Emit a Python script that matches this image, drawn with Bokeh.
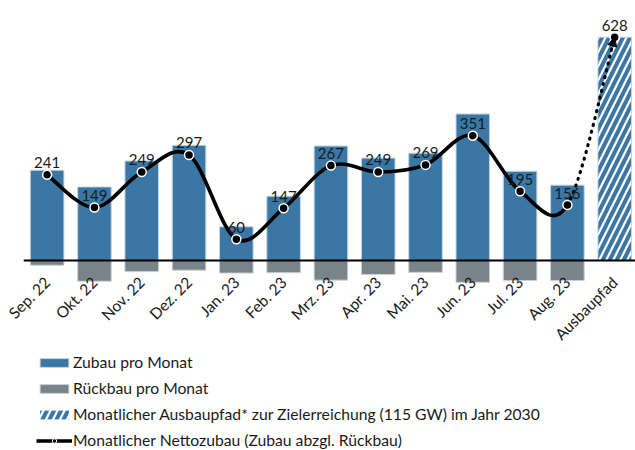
import math
from bokeh.plotting import figure
from bokeh.layouts import column
from bokeh.models import (ColumnDataSource, Range1d, FixedTicker, Span, Legend,
                          LegendItem, Arrow, NormalHead)
from bokeh.core.properties import value
from bokeh.embed import file_html
from bokeh.resources import INLINE

# ---------------- data ----------------
months = ["Sep. 22", "Okt. 22", "Nov. 22", "Dez. 22", "Jan. 23", "Feb. 23",
          "Mrz. 23", "Apr. 23", "Mai. 23", "Jun. 23", "Jul. 23", "Aug. 23"]
target_label = "Ausbaupfad"
zubau = [254, 207, 280, 324, 95, 181, 322, 288, 302, 412, 251, 212]
rueckbau = [13, 58, 31, 27, 35, 34, 55, 39, 33, 61, 56, 56]
netto = [241, 149, 249, 297, 60, 147, 267, 249, 269, 351, 195, 156]
ausbaupfad = 628

legend_labels = ["Zubau pro Monat", "Rückbau pro Monat",
                 "Monatlicher Ausbaupfad* zur Zielerreichung (115 GW) im Jahr 2030",
                 "Monatlicher Nettozubau (Zubau abzgl. Rückbau)"]

# ---------------- style ----------------
BLUE = "#3B77A4"
GRAY = "#78848A"
EDGE = "#C6D4E2"
GEDGE = "#C9D0D4"
FONT = "Lato"
TXT = "#1a1a1a"
HATCH = dict(fill_color="white", hatch_pattern="/", hatch_color=BLUE,
             hatch_weight=4, hatch_scale=14)
NAN = float("nan")

categories = months + [target_label]
xs = list(range(len(categories)))
nm = len(months)

CHART_H = 352
p = figure(width=635, height=CHART_H, output_backend="svg", toolbar_location=None,
           x_range=Range1d(-0.5, 12.44), y_range=Range1d(-64.4, 731),
           min_border_left=23, min_border_right=0, min_border_top=0,
           min_border_bottom=CHART_H - 284, y_axis_location=None,
           outline_line_color=None, background_fill_color="white",
           border_fill_color="white")
p.xgrid.visible = False
p.ygrid.visible = False

src = ColumnDataSource(dict(x=xs[:nm], zubau=zubau,
                            rueck=[-r for r in rueckbau], netto=netto,
                            lab=[str(v) for v in netto]))

p.vbar(x="x", top="zubau", bottom=0, width=0.71, source=src,
       fill_color=BLUE, line_color=EDGE, line_width=1)
p.vbar(x="x", top=0, bottom="rueck", width=0.71, source=src,
       fill_color=GRAY, line_color=GEDGE, line_width=1)
p.vbar(x=[xs[-1]], top=[ausbaupfad], bottom=0, width=0.71,
       line_color=EDGE, line_width=1, **HATCH)

p.add_layout(Span(location=0, dimension="width", line_color="black", line_width=2))

# smoothed net line (Catmull-Rom -> cubic Bezier)
py = netto + [ausbaupfad]
P = list(zip(xs, py))
n = len(P)
seg = dict(x0=[], y0=[], x1=[], y1=[], cx0=[], cy0=[], cx1=[], cy1=[])
for i in range(n - 1):
    p0 = P[i - 1] if i > 0 else P[i]
    p1, p2 = P[i], P[i + 1]
    p3 = P[i + 2] if i + 2 < n else P[i + 1]
    seg["x0"].append(p1[0]); seg["y0"].append(p1[1])
    seg["x1"].append(p2[0]); seg["y1"].append(p2[1])
    seg["cx0"].append(p1[0] + (p2[0] - p0[0]) / 6)
    seg["cy0"].append(p1[1] + (p2[1] - p0[1]) / 6)
    seg["cx1"].append(p2[0] - (p3[0] - p1[0]) / 6)
    seg["cy1"].append(p2[1] - (p3[1] - p1[1]) / 6)

solid = ColumnDataSource({k: v[:-1] for k, v in seg.items()})
dotted = ColumnDataSource({k: v[-1:] for k, v in seg.items()})

p.bezier(x0="x0", y0="y0", x1="x1", y1="y1", cx0="cx0", cy0="cy0",
         cx1="cx1", cy1="cy1", source=solid, line_color="black", line_width=3.6)
p.bezier(x0="x0", y0="y0", x1="x1", y1="y1", cx0="cx0", cy0="cy0",
         cx1="cx1", cy1="cy1", source=dotted, line_color="black",
         line_width=3.2, line_dash="1 6", line_cap="round")

arrow = Arrow(end=NormalHead(size=9, fill_color="black", line_color="black"),
              x_start=seg["cx1"][-1], y_start=seg["cy1"][-1],
              x_end=xs[-1], y_end=ausbaupfad, line_alpha=0, level="glyph")
p.add_layout(arrow)

p.scatter(x="x", y="netto", source=src, size=9, fill_color="black",
          line_color="white", line_width=1.5)
p.scatter(x=[xs[-1]], y=[ausbaupfad], size=9, fill_color="black",
          line_color="white", line_width=1.5)

# value labels
p.text(x="x", y="netto", text="lab", source=src, y_offset=-12,
       text_align="center", text_baseline="alphabetic",
       text_font=value(FONT), text_font_size="15px", text_color=TXT)
p.text(x=[xs[-1]], y=[ausbaupfad], text=[str(ausbaupfad)], y_offset=-12,
       text_align="center", text_baseline="alphabetic",
       text_font=value(FONT), text_font_size="15px", text_color=TXT)

# x axis
ax = p.xaxis[0]
ax.ticker = FixedTicker(ticks=xs)
ax.major_label_overrides = {i: c for i, c in enumerate(categories)}
ax.major_label_orientation = math.pi / 4
ax.axis_line_color = None
ax.major_tick_line_color = None
ax.minor_tick_line_color = None
ax.major_tick_out = 0
ax.major_tick_in = 0
ax.major_label_standoff = -4
ax.major_label_text_font = FONT
ax.major_label_text_font_size = "15.5px"
ax.major_label_text_color = TXT

# ---------------- legend (separate strip below the chart) ----------------
lg = figure(width=635, height=450 - CHART_H, output_backend="svg",
            toolbar_location=None, x_range=Range1d(0, 1), y_range=Range1d(0, 1),
            min_border_left=0, min_border_right=0, min_border_top=0,
            min_border_bottom=0, x_axis_location=None, y_axis_location=None,
            outline_line_color=None, background_fill_color="white",
            border_fill_color="white")
lg.xgrid.visible = False
lg.ygrid.visible = False
# legend proxies (no visible data, only their styles are used by the legend)
k_zu = lg.vbar(x=[NAN], top=[NAN], width=0.5, fill_color=BLUE, line_color=EDGE)
k_rb = lg.vbar(x=[NAN], top=[NAN], width=0.5, fill_color=GRAY, line_color=GEDGE)
k_ap = lg.vbar(x=[NAN], top=[NAN], width=0.5, line_color=None, **HATCH)
k_ln = lg.line(x=[NAN], y=[NAN], line_color="black", line_width=3.6)
k_pt = lg.scatter(x=[NAN], y=[NAN], size=6, fill_color="black",
                  line_color="white", line_width=1)

legend = Legend(items=[
    LegendItem(label=legend_labels[0], renderers=[k_zu]),
    LegendItem(label=legend_labels[1], renderers=[k_rb]),
    LegendItem(label=legend_labels[2], renderers=[k_ap]),
    LegendItem(label=legend_labels[3], renderers=[k_ln, k_pt]),
], location=(13, 0), orientation="vertical", glyph_width=36,
    glyph_height=11, label_height=20, spacing=6, padding=0, margin=0,
    label_standoff=1, border_line_color=None, background_fill_alpha=0,
    label_text_font=FONT, label_text_font_size="15.7px", label_text_color=TXT)
lg.add_layout(legend)

layout = column(p, lg, spacing=0)
open("out.html", "w").write(file_html(layout, INLINE))
